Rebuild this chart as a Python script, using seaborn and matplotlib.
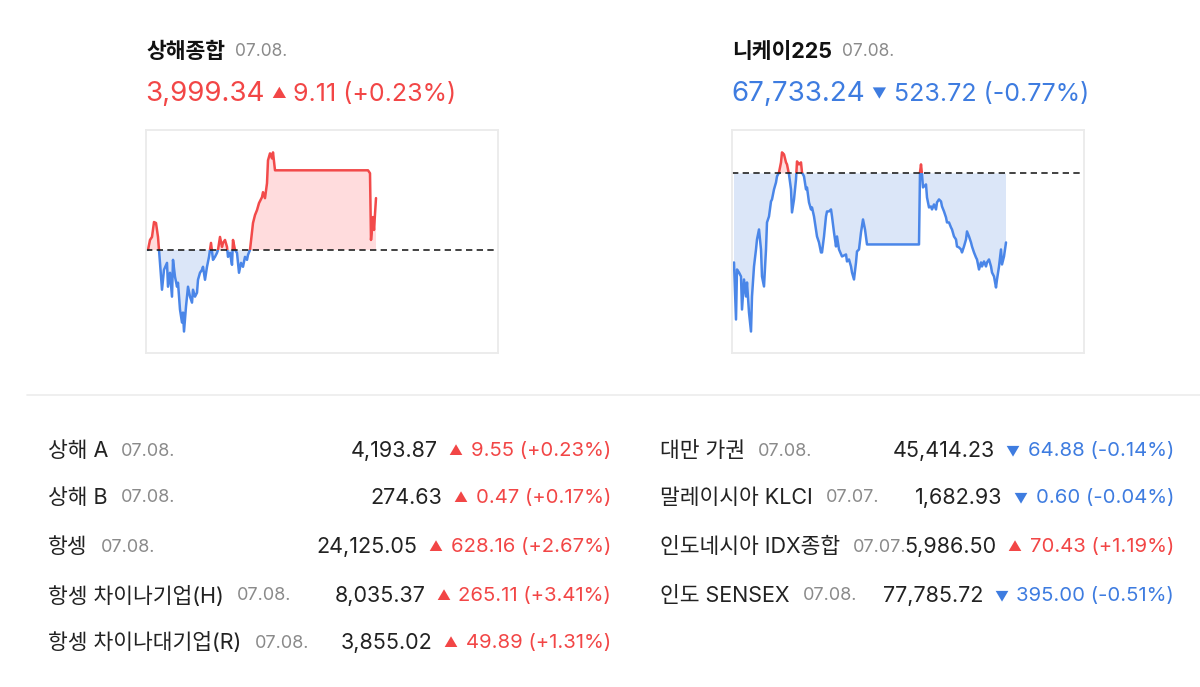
import matplotlib
matplotlib.use("Agg")
import matplotlib.pyplot as plt
import seaborn as sns
import numpy as np
from matplotlib.patches import Rectangle

# ---------------- data ----------------
sh_name, sh_date = "상해종합", "07.08."
sh_close, sh_change, sh_pct = 3999.34, 9.11, 0.23
sh_prev = 3990.23
sh_minutes = [0, 2, 4, 6, 8, 10, 11, 12, 14, 16, 19, 20, 22, 24, 25, 27, 29, 30, 32, 34,
              35, 36, 38, 40, 42, 44, 45, 47, 49, 50, 52, 54, 55, 57, 59, 61, 63, 65, 67, 69,
              70, 72, 74, 75, 77, 79, 80, 82, 84, 85, 87, 89, 91, 93, 95, 97, 99, 100, 102, 105,
              107, 109, 111, 114, 115, 117, 119, 120, 122, 124, 125, 127, 220, 222, 223, 225, 226, 228]
sh_values = [3990.23, 3991.98, 3992.51, 3995.13, 3994.96, 3992.51, 3990.23, 3987.95, 3983.23, 3986.73,
             3987.95, 3983.76, 3986.21, 3982.01, 3988.48, 3985.50, 3983.76, 3984.46, 3979.73, 3977.46,
             3979.21, 3975.88, 3980.26, 3983.76, 3982.01, 3980.96, 3983.23, 3982.01, 3982.71, 3984.98,
             3986.21, 3986.73, 3987.26, 3984.98, 3987.26, 3989.01, 3991.46, 3988.48, 3989.01, 3989.71,
             3990.23, 3992.51, 3990.76, 3991.46, 3991.98, 3990.76, 3989.01, 3989.71, 3987.61, 3991.98,
             3990.23, 3989.71, 3986.21, 3987.95, 3987.26, 3989.01, 3988.48, 3989.36, 3990.23, 3994.96,
             3996.36, 3997.23, 3998.46, 3999.51, 4000.38, 3999.33, 4001.96, 4005.98, 4007.21, 4006.33,
             4007.38, 4004.23, 4004.23, 4003.71, 3991.98, 3996.01, 3993.73, 3999.34]

nk_name, nk_date = "니케이225", "07.08."
nk_close, nk_change, nk_pct = 67733.24, -523.72, -0.77
nk_prev = 68256.96
nk_minutes = [0, 2, 3, 5, 7, 8, 10, 12, 13, 15, 17, 18, 20, 22, 23, 25, 27, 28, 30, 32,
              33, 35, 37, 38, 40, 42, 43, 45, 47, 48, 50, 52, 53, 55, 57, 58, 60, 62, 63, 65,
              67, 68, 70, 72, 73, 75, 77, 78, 80, 82, 83, 85, 87, 88, 90, 92, 93, 95, 97, 98,
              100, 102, 103, 105, 108, 112, 113, 115, 117, 118, 120, 122, 123, 125, 127, 129, 131, 133, 185, 186,
              187, 188, 189, 192, 193, 195, 197, 198, 200, 202, 203, 205, 207, 208, 210, 212, 213, 215, 217, 218,
              220, 222, 223, 225, 227, 228, 230, 232, 233, 235, 237, 238, 240, 242, 243, 245, 247, 248, 250, 252,
              253, 255, 257, 258, 260, 262, 263, 265, 267, 268, 270, 272]
nk_values = [67581.5, 67148.8, 67528.3, 67505.6, 67475.2, 67224.7, 67452.4, 67323.4, 67429.6, 67201.9,
             67057.7, 67323.4, 67551.1, 67680.1, 67756.0, 67831.9, 67680.1, 67475.2, 67399.3, 67680.1,
             67885.0, 67930.6, 68044.5, 68059.6, 68135.5, 68188.7, 68234.2, 68264.6, 68340.5, 68416.4,
             68401.2, 68340.5, 68325.3, 68249.4, 68135.5, 67961.0, 68059.6, 68211.4, 68348.0, 68325.3,
             68340.5, 68264.6, 68234.2, 68135.5, 68150.7, 68036.9, 67983.7, 67998.9, 67930.6, 67831.9,
             67778.8, 67733.2, 67657.4, 67657.4, 67778.8, 67930.6, 67968.5, 67968.5, 67983.7, 67930.6,
             67809.2, 67702.9, 67778.8, 67680.1, 67627.0, 67642.2, 67589.1, 67604.2, 67551.1, 67505.6,
             67452.4, 67581.5, 67665.0, 67680.1, 67809.2, 67907.8, 67831.9, 67718.1, 67718.1, 68264.6,
             68325.3, 68249.4, 68150.7, 68173.5, 68074.8, 67998.9, 68006.5, 67983.7, 68021.7, 67983.7,
             68036.9, 68059.6, 68044.5, 68006.5, 67968.5, 67923.0, 67885.0, 67885.0, 67847.1, 67831.9,
             67778.8, 67756.0, 67702.9, 67695.3, 67680.1, 67657.4, 67702.9, 67756.0, 67816.8, 67778.8,
             67733.2, 67702.9, 67657.4, 67619.4, 67604.2, 67528.3, 67581.5, 67551.1, 67589.1, 67551.1,
             67581.5, 67604.2, 67551.1, 67505.6, 67475.2, 67391.7, 67452.4, 67551.1, 67680.1, 67566.3,
             67627.0, 67733.24]

left_names = ["상해 A", "상해 B", "항셍", "항셍 차이나기업(H)", "항셍 차이나대기업(R)"]
left_dates = ["07.08.", "07.08.", "07.08.", "07.08.", "07.08."]
left_values = [4193.87, 274.63, 24125.05, 8035.37, 3855.02]
left_changes = [9.55, 0.47, 628.16, 265.11, 49.89]
left_pcts = [0.23, 0.17, 2.67, 3.41, 1.31]

right_names = ["대만 가권", "말레이시아 KLCI", "인도네시아 IDX종합", "인도 SENSEX"]
right_dates = ["07.08.", "07.07.", "07.07.", "07.08."]
right_values = [45414.23, 1682.93, 5986.50, 77785.72]
right_changes = [-64.88, -0.60, 70.43, -395.00]
right_pcts = [-0.14, -0.04, 1.19, -0.51]

# ---------------- style ----------------
RED, BLUE = "#f24646", "#3e7ce0"
RED_LINE, BLUE_LINE = "#f24a4a", "#4a86e8"
RED_FILL, BLUE_FILL = "#ffdcdd", "#dbe6f8"
DARK, GRAY = "#222222", "#8a8a8a"

sns.set_theme(style="white")
FONT = ["Inter", "Noto Sans CJK KR", "DejaVu Sans"]
plt.rcParams["font.family"] = FONT

W, H = 1200, 687
fig = plt.figure(figsize=(12, 6.87), dpi=100)
PT = 72 / 100  # px -> pt


def px_rect(x0, y0, x1, y1):
    return [x0 / W, 1 - y1 / H, (x1 - x0) / W, (y1 - y0) / H]


lay = fig.add_axes([0, 0, 1, 1])
lay.set_xlim(0, W)
lay.set_ylim(H, 0)
lay.axis("off")


def chain(prev, s, gap_px, side="right", **kw):
    if side == "right":
        return lay.annotate(s, xy=(1, 0.5), xycoords=prev, xytext=(gap_px * PT, 0),
                            textcoords="offset points", ha="left", va="center", **kw)
    return lay.annotate(s, xy=(0, 0.5), xycoords=prev, xytext=(-gap_px * PT, 0),
                        textcoords="offset points", ha="right", va="center", **kw)


def fmt_change(c, p):
    sign = "+" if c > 0 else "-"
    return f"{abs(c):,.2f} ({sign}{abs(p):.2f}%)"


def mini_chart(rect, minutes, values, prev):
    ax = fig.add_axes(rect)
    t = np.asarray(minutes, float)
    v = np.asarray(values, float)
    ax.set_xlim(-2, 350)
    r = v.max() - v.min()
    ax.set_ylim(v.min() - 0.12 * r, v.max() + 0.125 * r)
    ax.fill_between(t, v, prev, where=v >= prev, interpolate=True, color=RED_FILL, lw=0)
    ax.fill_between(t, v, prev, where=v <= prev, interpolate=True, color=BLUE_FILL, lw=0)
    sns.lineplot(x=t, y=v, ax=ax, color=RED_LINE, lw=1.8, sort=False, estimator=None)
    up = ax.lines[-1]
    sns.lineplot(x=t, y=v, ax=ax, color=BLUE_LINE, lw=1.8, sort=False, estimator=None)
    dn = ax.lines[-1]
    x0, x1 = ax.get_xlim()
    y0, y1 = ax.get_ylim()
    up.set_clip_path(Rectangle((x0, prev), x1 - x0, y1 - prev, transform=ax.transData))
    dn.set_clip_path(Rectangle((x0, y0), x1 - x0, prev - y0, transform=ax.transData))
    ax.axhline(prev, color="#222222", lw=1.2, ls=(0, (3.8, 2.6)))
    ax.set_xticks([])
    ax.set_yticks([])
    ax.set_xlabel("")
    ax.set_ylabel("")
    for s in ax.spines.values():
        s.set_visible(True)
        s.set_color("#ebebeb")
        s.set_linewidth(1.3)
    return ax


def header(x, name, date, close, change, pct):
    col = RED if change > 0 else BLUE
    tri = "▲" if change > 0 else "▼"
    t1 = lay.text(x, 52, name, fontsize=15.5, fontweight="bold", color="#111111",
                  ha="left", va="center")
    chain(t1, date, 10, fontsize=12.5, color=GRAY)
    t2 = lay.text(x - 1, 94, f"{close:,.2f}", fontsize=20, color=col, ha="left", va="center")
    t3 = chain(t2, tri, 7, fontsize=10.5, color=col)
    chain(t3, fmt_change(change, pct), 7, fontsize=18, color=col)


header(146, sh_name, sh_date, sh_close, sh_change, sh_pct)
header(732, nk_name, nk_date, nk_close, nk_change, nk_pct)

mini_chart(px_rect(146, 130, 498, 353), sh_minutes, sh_values, sh_prev)
mini_chart(px_rect(732, 130, 1084, 353), nk_minutes, nk_values, nk_prev)

lay.plot([27, 1200], [395, 395], color="#ececec", lw=1.2)


def table(x_name, x_right, ys, names, dates, values, changes, pcts):
    for y, n, d, v, c, p in zip(ys, names, dates, values, changes, pcts):
        col = RED if c > 0 else BLUE
        tri = "▲" if c > 0 else "▼"
        tn = lay.text(x_name, y, n, fontsize=15.5, color=DARK, ha="left", va="center")
        chain(tn, d, 13, fontsize=13, color=GRAY)
        tc = lay.text(x_right, y, fmt_change(c, p), fontsize=14.6, color=col,
                      ha="right", va="center")
        tt = chain(tc, tri, 8, side="left", fontsize=10, color=col)
        chain(tt, f"{v:,.2f}", 11, side="left", fontsize=15.5, color=DARK)


table(48, 611, [451, 498, 547, 596, 643], left_names, left_dates, left_values,
      left_changes, left_pcts)
table(660, 1174, [451, 498, 547, 596], right_names, right_dates, right_values,
      right_changes, right_pcts)

fig.savefig("out.png", dpi=100, facecolor="white")
